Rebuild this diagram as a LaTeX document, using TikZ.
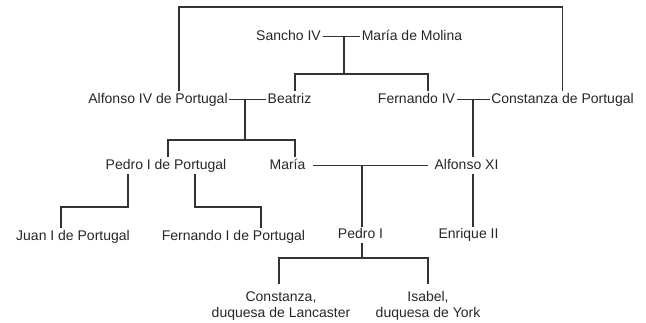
\documentclass[tikz,border=0pt]{standalone}
\usepackage{fontspec}
\setmainfont{Liberation Sans}
\begin{document}
\begin{tikzpicture}[x=1pt, y=-1pt,
    person/.style={anchor=base, inner sep=1.5pt, text height=10pt, text depth=3pt,
        font=\fontsize{14}{16}\selectfont, text=black!85},
    persontwo/.style={align=center, inner xsep=1.5pt, inner ysep=7pt,
        font=\fontsize{14}{16}\selectfont, text=black!85},
    link/.style={line width=1.1pt, draw=black!80}]
    \useasboundingbox (0,0) rectangle (646,322);
    % generations, row by row
    \node[person] (sancho) at (288.5,40) {Sancho IV};
    \node[person] (molina) at (412,40) {María de Molina};
    \node[person] (alfonsoiv) at (158,103) {Alfonso IV de Portugal};
    \node[person] (beatriz) at (289.5,103) {Beatriz};
    \node[person] (fernandoiv) at (416.5,103) {Fernando IV};
    \node[person] (constanzap) at (562.5,103) {Constanza de Portugal};
    \node[person] (pedrop) at (166,169) {Pedro I de Portugal};
    \node[person] (maria) at (287.5,169) {María};
    \node[person] (alfonsoxi) at (466.5,169) {Alfonso XI};
    \node[person] (juan) at (73,240) {Juan I de Portugal};
    \node[person] (fernandoi) at (233.5,240) {Fernando I de Portugal};
    \node[person] (pedroi) at (360.5,238.5) {Pedro I};
    \node[person] (enrique) at (468.5,238.5) {Enrique II};
    \node[persontwo] (constanzad) at (281,306) {Constanza,\\duquesa de Lancaster};
    \node[persontwo] (isabel) at (428,306) {Isabel,\\duquesa de York};
    % junctions and bars
    \coordinate (top) at (179,7);
    \coordinate (j1) at (344,36.5);
    \coordinate (bar1) at (344,74);
    \coordinate (j2) at (245,99.5);
    \coordinate (bar2) at (245,140);
    \coordinate (j3) at (473,99.5);
    \coordinate (j4) at (362,165.5);
    \coordinate (bar3) at (128,207);
    \coordinate (bar4) at (195,207);
    \coordinate (bar5) at (362,258);
    % marriages
    \draw[link] (sancho) -- (molina);
    \draw[link] (alfonsoiv) -- (beatriz);
    \draw[link] (fernandoiv) -- (constanzap);
    \draw[link, shorten <=6pt, shorten >=5pt] (maria) -- (alfonsoxi);
    \draw[link] (alfonsoiv.north -| top) -- (top) -| (constanzap.north);
    % children
    \draw[link] (j1) -- (bar1);
    \draw[link] ([xshift=5.5pt]beatriz.north) |- (bar1) -| ([xshift=11.5pt]fernandoiv.north);
    \draw[link] (j2) -- (bar2);
    \draw[link] ([xshift=2pt]pedrop.north) |- (bar2) -| ([xshift=7.5pt]maria.north);
    \draw[link] (j3) -- (alfonsoxi.north -| j3);
    \draw[link] (alfonsoxi.south -| j3) -- (enrique.north -| j3);
    \draw[link] (j4) -- (pedroi.north -| j4);
    \draw[link] (pedrop.south -| bar3) -- (bar3) -| ([xshift=-12pt]juan.north);
    \draw[link] (pedrop.south -| bar4) -- (bar4) -| ([xshift=27.5pt]fernandoi.north);
    \draw[link] (pedroi.south -| j4) -- (bar5);
    \draw[link] ([xshift=-2pt]constanzad.north) |- (bar5) -| (isabel.north);
\end{tikzpicture}
\end{document}
